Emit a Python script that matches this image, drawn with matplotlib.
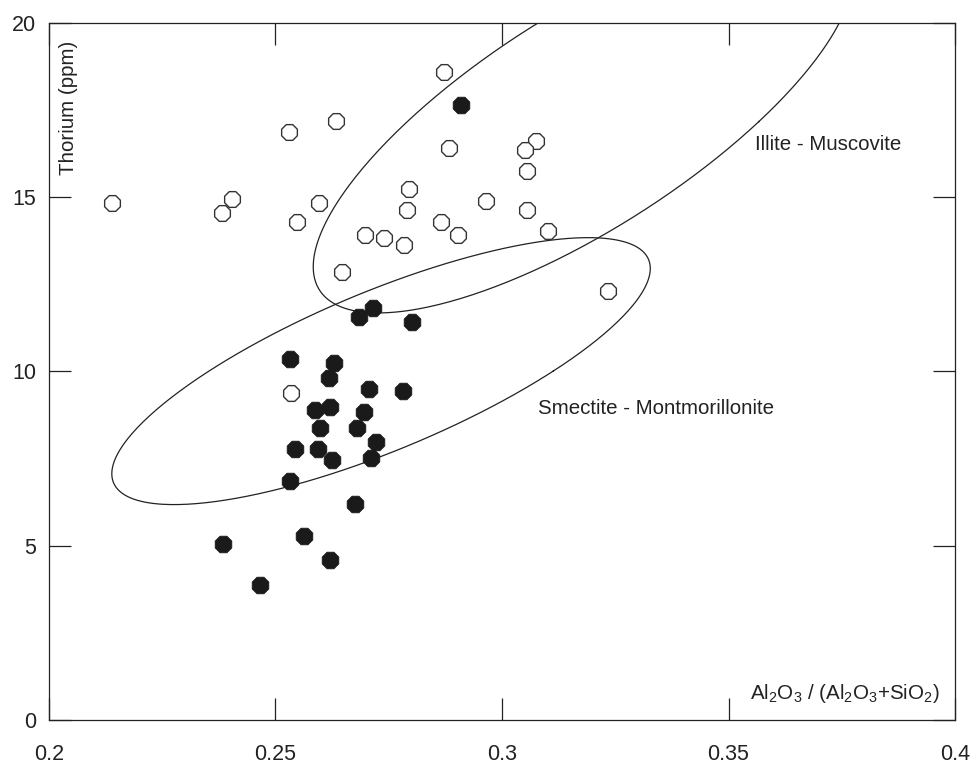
import matplotlib
matplotlib.use("Agg")
import matplotlib.pyplot as plt
from matplotlib.ticker import FormatStrFormatter
import numpy as np

plt.rcParams['font.family'] = ['Liberation Sans', 'DejaVu Sans']
plt.rcParams['mathtext.default'] = 'regular'

# open symbols
open_x = [0.2139, 0.2383, 0.2404, 0.2530, 0.2633, 0.2597, 0.2547, 0.2794, 0.2790,
          0.2698, 0.2740, 0.2784, 0.2647, 0.2871, 0.2882, 0.3075, 0.3050, 0.3055,
          0.2964, 0.3055, 0.2866, 0.2902, 0.3101, 0.3235, 0.2535]
open_y = [14.83, 14.56, 14.95, 16.86, 17.20, 14.83, 14.28, 15.23, 14.62,
          13.91, 13.84, 13.64, 12.85, 18.59, 16.41, 16.62, 16.35, 15.75,
          14.88, 14.62, 14.30, 13.92, 14.03, 12.31, 9.38]

# filled symbols
filled_x = [0.2716, 0.2685, 0.2802, 0.2533, 0.2629, 0.2619, 0.2706, 0.2782, 0.2588,
            0.2620, 0.2696, 0.2599, 0.2680, 0.2722, 0.2543, 0.2594, 0.2625, 0.2711,
            0.2533, 0.2675, 0.2564, 0.2385, 0.2620, 0.2466, 0.2910]
filled_y = [11.81, 11.55, 11.42, 10.36, 10.24, 9.82, 9.50, 9.44, 8.90,
            8.97, 8.83, 8.38, 8.39, 7.98, 7.77, 7.78, 7.45, 7.51,
            6.86, 6.19, 5.27, 5.06, 4.60, 3.87, 17.65]

# mineral fields: centre, cos-term (x), sin-term (x), sin-term (y)
fields = {
    "Illite - Muscovite": (0.3179, 17.17, 0.0388, 0.0452, 5.49),
    "Smectite - Montmorillonite": (0.2733, 10.01, 0.0380, 0.0457, 3.83),
}
field_labels = {
    "Illite - Muscovite": (0.3558, 16.5),
    "Smectite - Montmorillonite": (0.3079, 8.95),
}

x_ticks = [0.2, 0.25, 0.3, 0.35, 0.4]
y_ticks = [0, 5, 10, 15, 20]

fig = plt.figure(figsize=(9.74, 7.63), dpi=100)
ax = fig.add_axes([0.0503, 0.0564, 0.9302, 0.9135])

t = np.linspace(0, 2 * np.pi, 400)
for name, (cx, cy, a, b, h) in fields.items():
    ax.plot(cx + a * np.cos(t) + b * np.sin(t), cy + h * np.sin(t),
            color='#222222', lw=0.9)
    lx, ly = field_labels[name]
    ax.text(lx, ly, name, fontsize=14.8, color='#222222', ha='left', va='center')

ax.scatter(open_x, open_y, s=150, marker='8', facecolor='white',
           edgecolor='#333333', linewidth=1.0, zorder=3)
ax.scatter(filled_x, filled_y, s=170, marker='8', facecolor='#1a1a1a',
           edgecolor='#1a1a1a', linewidth=0.5, zorder=3)

ax.set_xlim(0.2, 0.4)
ax.set_ylim(0, 20)
ax.set_xticks(x_ticks)
ax.set_yticks(y_ticks)
ax.xaxis.set_major_formatter(FormatStrFormatter('%g'))
ax.tick_params(direction='in', length=16, width=0.9, top=True, right=True,
               labelsize=15.5, colors='#222222')
ax.tick_params(axis='x', pad=17)
ax.tick_params(axis='y', pad=9)
for sp in ax.spines.values():
    sp.set_linewidth(0.9)
    sp.set_color('#222222')

ax.text(0.021, 0.975, "Thorium (ppm)", transform=ax.transAxes, rotation=90,
        ha='center', va='top', fontsize=14.8, color='#222222')
ax.text(0.983, 0.022, "Al$_2$O$_3$ / (Al$_2$O$_3$+SiO$_2$)", transform=ax.transAxes,
        ha='right', va='bottom', fontsize=14.8, color='#222222')

fig.savefig("out.png", dpi=100)
